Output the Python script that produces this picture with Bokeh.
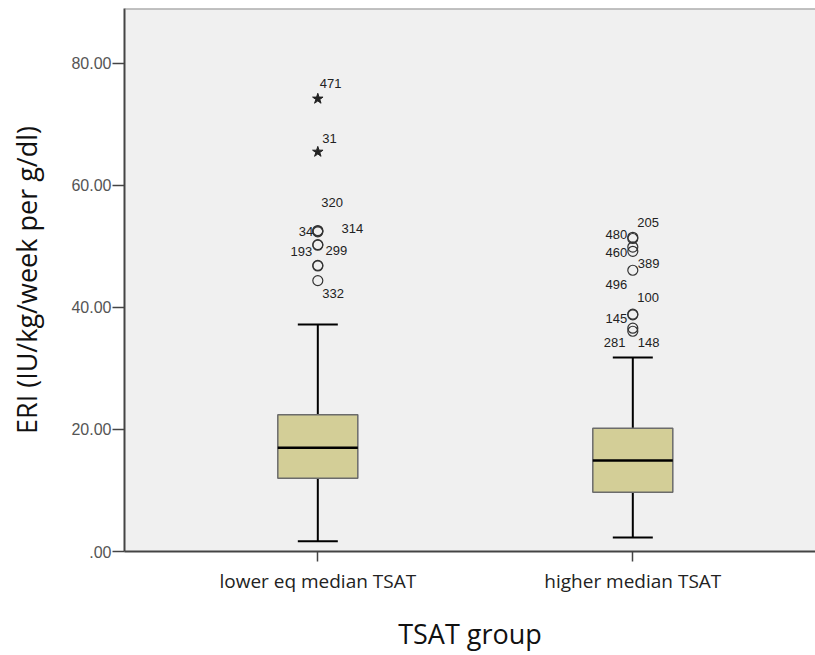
from bokeh.plotting import figure
from bokeh.models import ColumnDataSource, FixedTicker, Span
from bokeh.embed import file_html
from bokeh.resources import INLINE
from bokeh.core.properties import value

# ---- data ----
groups = ["lower eq median TSAT", "higher median TSAT"]
group_pos = [1, 2]
whisker_low = [1.7, 2.3]
q1 = [12.0, 9.7]
median = [17.0, 14.9]
q3 = [22.4, 20.2]
whisker_high = [37.2, 31.8]

# outliers (circles) and extremes (stars)
out_group = [1, 1, 1, 1, 1, 1, 1, 1, 2, 2, 2, 2, 2, 2, 2, 2, 2]
out_value = [52.6, 52.5, 52.4, 50.3, 50.2, 46.9, 46.8, 44.4,
             51.5, 51.3, 49.9, 49.2, 46.1, 38.9, 38.8, 36.6, 36.1]
out_label = ["320", "34", "314", "193", "299", "", "", "332",
             "205", "480", "460", "389", "496", "100", "145", "281", "148"]
ext_group = [1, 1]
ext_value = [74.2, 65.5]
ext_label = ["471", "31"]

y_ticks = [0, 20, 40, 60, 80]
y_tick_labels = [".00", "20.00", "40.00", "60.00", "80.00"]

# ---- label placement (pixel offsets, style only) ----
out_dx = [3.4, -4.6, 23.7, -5.6, 7.7, 0, 0, 4.4,
          4.4, -5.6, -5.6, 5.0, -5.6, 4.4, -5.6, -7.3, 5.0]
out_dy = [-28.4, 0, -3, 7, 5, 0, 0, 13,
          -14.5, -4, 5, 12.4, 14, -16.4, 4, 14.6, 11.5]
out_align = ["left", "right", "left", "right", "left", "left", "left", "left",
             "left", "right", "right", "left", "right", "left", "right", "right", "left"]
ext_dx = [2.0, 4.4]
ext_dy = [-15.7, -13.8]

BOX_W = 0.254
CAP_W = 0.127

p = figure(width=815, height=655, output_backend="svg", toolbar_location=None,
           x_range=(0.3863, 2.58), y_range=(0, 89.0),
           min_border_left=124, min_border_right=0, min_border_top=8, min_border_bottom=104)
p.frame_width = 691
p.frame_height = 543
p.background_fill_color = "#f0f0f0"
p.border_fill_color = "white"
p.outline_line_color = None
p.grid.visible = False

top_line = Span(location=89.0, dimension="width", line_color="#8c8c8c", line_width=2)
p.add_layout(top_line)

cap_x0 = [g - CAP_W / 2 for g in group_pos]
cap_x1 = [g + CAP_W / 2 for g in group_pos]
box_x0 = [g - BOX_W / 2 for g in group_pos]
box_x1 = [g + BOX_W / 2 for g in group_pos]
src = ColumnDataSource(dict(x=group_pos, lo=whisker_low, q1=q1, med=median, q3=q3, hi=whisker_high,
                            cx0=cap_x0, cx1=cap_x1, bx0=box_x0, bx1=box_x1))

# whiskers
p.segment(x0="x", y0="q3", x1="x", y1="hi", source=src, line_color="black", line_width=2)
p.segment(x0="x", y0="lo", x1="x", y1="q1", source=src, line_color="black", line_width=2)
p.segment(x0="cx0", y0="hi", x1="cx1", y1="hi", source=src, line_color="black", line_width=2)
p.segment(x0="cx0", y0="lo", x1="cx1", y1="lo", source=src, line_color="black", line_width=2)
# boxes
p.vbar(x="x", width=BOX_W, bottom="q1", top="q3", source=src,
       fill_color="#d3ce97", line_color="#6b6b6b", line_width=1.5)
p.segment(x0="bx0", y0="med", x1="bx1", y1="med", source=src, line_color="black", line_width=2.5)

osrc = ColumnDataSource(dict(x=out_group, y=out_value, t=out_label, dx=out_dx, dy=out_dy, al=out_align))
p.scatter(x="x", y="y", source=osrc, marker="circle", size=10, fill_color=None,
          line_color="#333333", line_width=1.2)
p.text(x="x", y="y", text="t", source=osrc, x_offset="dx", y_offset="dy", text_align="al",
       text_baseline="middle", text_font=value("Liberation Sans"), text_font_size="13px",
       text_color="#222222")

esrc = ColumnDataSource(dict(x=ext_group, y=ext_value, t=ext_label, dx=ext_dx, dy=ext_dy))
p.scatter(x="x", y="y", source=esrc, marker="star", size=11, fill_color="#222222",
          line_color="#222222", line_width=1)
p.text(x="x", y="y", text="t", source=esrc, x_offset="dx", y_offset="dy", text_align="left",
       text_baseline="middle", text_font=value("Liberation Sans"), text_font_size="13px",
       text_color="#222222")

# axes
p.yaxis.ticker = FixedTicker(ticks=y_ticks)
p.yaxis.major_label_overrides = {t: l for t, l in zip(y_ticks, y_tick_labels)}
p.yaxis.minor_tick_line_color = None
p.yaxis.major_tick_in = 0
p.yaxis.major_tick_out = 12
p.yaxis.axis_line_color = "#444444"
p.yaxis.axis_line_width = 2
p.yaxis.major_tick_line_color = "#444444"
p.yaxis.major_tick_line_width = 1.5
p.yaxis.major_label_text_font = "Liberation Sans"
p.yaxis.major_label_text_font_size = "16px"
p.yaxis.major_label_text_color = "#555555"
p.yaxis.major_label_standoff = 1
p.yaxis.axis_label = "ERI (IU/kg/week per g/dl)"
p.yaxis.axis_label_text_font = "Open Sans"
p.yaxis.axis_label_text_font_style = "normal"
p.yaxis.axis_label_text_font_size = "27px"
p.yaxis.axis_label_text_color = "#111111"
p.yaxis.axis_label_standoff = 23

p.xaxis.ticker = FixedTicker(ticks=group_pos)
p.xaxis.major_label_overrides = {g: n for g, n in zip(group_pos, groups)}
p.xaxis.minor_tick_line_color = None
p.xaxis.major_tick_in = 0
p.xaxis.major_tick_out = 10
p.xaxis.axis_line_color = "#444444"
p.xaxis.axis_line_width = 2
p.xaxis.major_tick_line_color = "#444444"
p.xaxis.major_tick_line_width = 1.5
p.xaxis.major_label_text_font = "Open Sans"
p.xaxis.major_label_text_font_size = "19px"
p.xaxis.major_label_text_color = "#222222"
p.xaxis.major_label_standoff = 6
p.xaxis.axis_label = "TSAT group"
p.xaxis.axis_label_text_font = "Open Sans"
p.xaxis.axis_label_text_font_style = "normal"
p.xaxis.axis_label_text_font_size = "27px"
p.xaxis.axis_label_text_color = "#111111"
p.xaxis.axis_label_standoff = 18

open("out.html", "w").write(file_html(p, INLINE))
